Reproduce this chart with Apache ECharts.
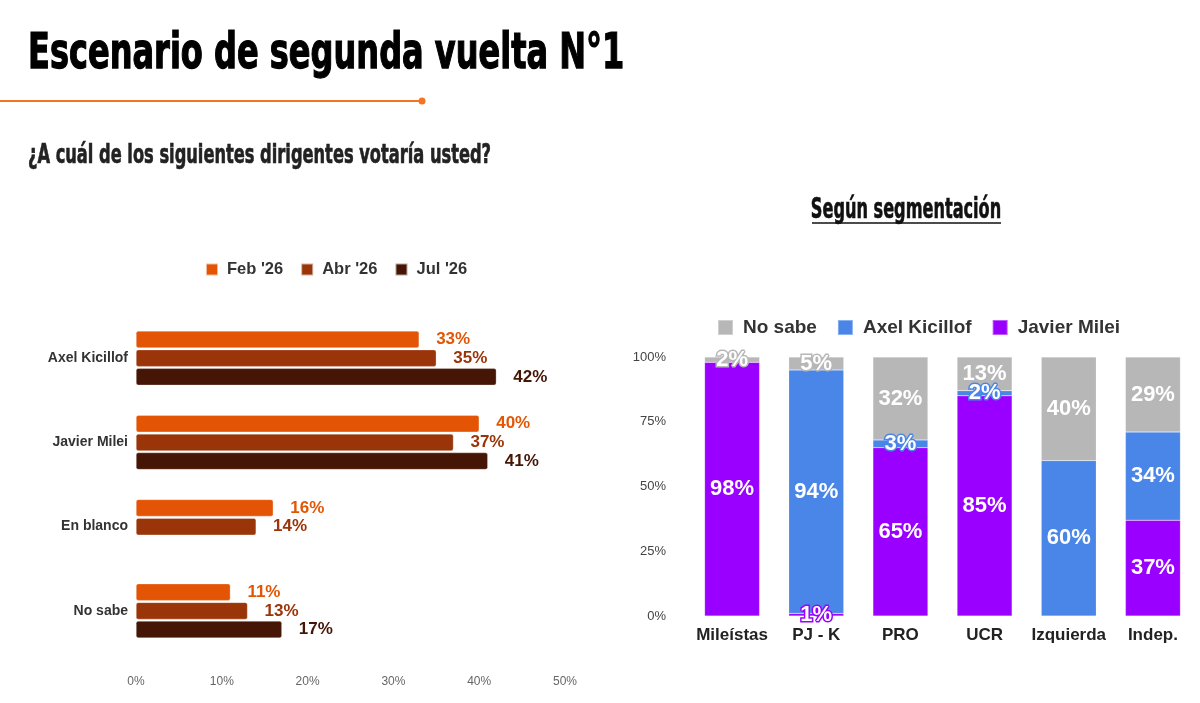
<!DOCTYPE html>
<html><head><meta charset="utf-8">
<script src="https://cdn.jsdelivr.net/npm/echarts@6/dist/echarts.min.js"></script>
<style>html,body{margin:0;padding:0;background:#fff}#c{width:1200px;height:703px}</style>
</head><body><div id="c"></div>
<script>
// Left chart data
const leftCategories = ['Axel Kicillof', 'Javier Milei', 'En blanco', 'No sabe'];
const febValues = [33, 40, 16, 11];
const abrValues = [35, 37, 14, 13];
const julValues = [42, 41, null, 17];
const leftTicks = [0, 10, 20, 30, 40, 50];

// Right chart data
const segCategories = ['Mileístas', 'PJ - K', 'PRO', 'UCR', 'Izquierda', 'Indep.'];
const mileiSeg = [98, 1, 65, 85, 0, 37];
const kicillofSeg = [0, 94, 3, 2, 60, 34];
const noSabeSeg = [2, 5, 32, 13, 40, 29];
const rightTicks = [0, 25, 50, 75, 100];

const cFeb = '#E35505', cAbr = '#9A3409', cJul = '#451605';
const cMilei = '#9900FF', cAxel = '#4A86E8', cNs = '#B7B7B7';
const condensed = "'Liberation Sans Narrow','DejaVu Sans Condensed',sans-serif";
const sans = "'Liberation Sans',Arial,sans-serif";

function leftSeries(name, data, color) {
  return {
    name, type: 'bar', xAxisIndex: 0, yAxisIndex: 0, data,
    barWidth: 17, barGap: '10%',
    itemStyle: { color, borderRadius: 2, borderColor: 'rgba(255,255,255,0.6)', borderWidth: 0.5 },
    label: { show: true, position: 'right', distance: 17, formatter: p => p.value + '%',
      color, fontFamily: sans, fontWeight: 'bold', fontSize: 17 }
  };
}
function rightSeries(name, data, color) {
  return {
    name, type: 'bar', stack: 'seg', xAxisIndex: 1, yAxisIndex: 1, data,
    barWidth: 55,
    itemStyle: { color, borderColor: 'rgba(255,255,255,0.35)', borderWidth: 0.5 },
    label: { show: true, position: 'inside', formatter: p => p.value > 0 ? p.value + '%' : '',
      color: '#fff', fontFamily: sans, fontWeight: 'bold', fontSize: 22,
      textBorderColor: color, textBorderWidth: 3 }
  };
}

const chart = echarts.init(document.getElementById('c'));
chart.setOption({
  backgroundColor: '#fff',
  animation: false,
  graphic: [
    { type: 'text', x: 28, y: 55, scaleX: 0.89, scaleY: 1.25,
      style: { text: 'Escenario de segunda vuelta N°1', font: 'bold 40px ' + condensed, fill: '#000',
        stroke: '#000', lineWidth: 1, textVerticalAlign: 'middle' } },
    { type: 'line', shape: { x1: 0, y1: 101, x2: 422, y2: 101 }, style: { stroke: '#F47424', lineWidth: 2 } },
    { type: 'circle', shape: { cx: 422, cy: 101, r: 3.5 }, style: { fill: '#F47424' } },
    { type: 'text', x: 28, y: 156, scaleX: 0.86, scaleY: 1.25,
      style: { text: '¿A cuál de los siguientes dirigentes votaría usted?', font: 'bold 21px ' + condensed, fill: '#222',
        stroke: '#222', lineWidth: 0.5, textVerticalAlign: 'middle' } },
    { type: 'text', x: 906, y: 211, scaleX: 0.78, scaleY: 1.2,
      style: { text: 'Según segmentación', font: 'bold 23px ' + condensed, fill: '#111',
        stroke: '#111', lineWidth: 0.5, textAlign: 'center', textVerticalAlign: 'middle' } },
    { type: 'line', shape: { x1: 812, y1: 223, x2: 1001, y2: 223 }, style: { stroke: '#111', lineWidth: 1.5 } }
  ],
  legend: [
    { data: ["Feb '26", "Abr '26", "Jul '26"], left: 200, top: 256, itemWidth: 12, itemHeight: 12, itemGap: 17,
      icon: 'rect', textStyle: { fontFamily: sans, fontWeight: 'bold', fontSize: 16.5, color: '#333', padding: [0, 0, 0, 4] } },
    { data: ['No sabe', 'Axel Kicillof', 'Javier Milei'], left: 712, top: 313, itemWidth: 15, itemHeight: 15, itemGap: 20,
      icon: 'rect', textStyle: { fontFamily: sans, fontWeight: 'bold', fontSize: 19, color: '#333', padding: [0, 0, 0, 5] } }
  ],
  grid: [
    { left: 136, right: 635, top: 316, bottom: 50 },
    { left: 690, right: 5, top: 357, bottom: 87 }
  ],
  xAxis: [
    { type: 'value', gridIndex: 0, min: leftTicks[0], max: leftTicks[leftTicks.length - 1], interval: 10,
      axisLine: { show: false }, axisTick: { show: false }, splitLine: { show: false },
      axisLabel: { formatter: '{value}%', margin: 23, color: '#666', fontFamily: sans, fontSize: 12 } },
    { type: 'category', gridIndex: 1, data: segCategories,
      axisLine: { show: false }, axisTick: { show: false },
      axisLabel: { interval: 0, margin: 11, color: '#222', fontFamily: sans, fontWeight: 'bold', fontSize: 17 } }
  ],
  yAxis: [
    { type: 'category', gridIndex: 0, data: leftCategories, inverse: true,
      axisLine: { show: false }, axisTick: { show: false },
      axisLabel: { margin: 8, color: '#333', fontFamily: sans, fontWeight: 'bold', fontSize: 14 } },
    { type: 'value', gridIndex: 1, min: rightTicks[0], max: rightTicks[rightTicks.length - 1], interval: 25,
      axisLine: { show: false }, axisTick: { show: false }, splitLine: { show: false },
      axisLabel: { formatter: '{value}%', margin: 24, color: '#444', fontFamily: sans, fontSize: 13 } }
  ],
  series: [
    leftSeries("Feb '26", febValues, cFeb),
    leftSeries("Abr '26", abrValues, cAbr),
    leftSeries("Jul '26", julValues, cJul),
    rightSeries('Javier Milei', mileiSeg, cMilei),
    rightSeries('Axel Kicillof', kicillofSeg, cAxel),
    rightSeries('No sabe', noSabeSeg, cNs)
  ]
});
</script></body></html>
